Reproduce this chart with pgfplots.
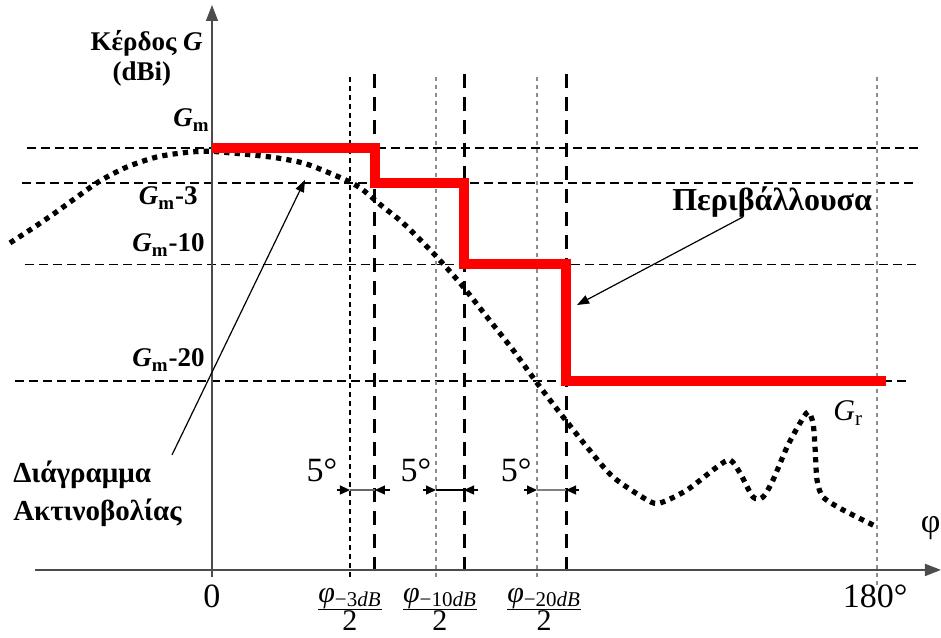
\documentclass[border=0pt]{standalone}
\usepackage{fontspec}
\setmainfont{Liberation Serif}
\usepackage{pgfplots}
\pgfplotsset{compat=1.18}
\usetikzlibrary{arrows.meta}
\newcommand\lab{\fontsize{13.5}{16}\selectfont\bfseries}
\newcommand\num{\fontsize{17}{20}\selectfont}
\begin{document}
\begin{tikzpicture}
\begin{axis}[scale only axis, width=470.5pt, height=319pt,
  xmin=-57.38, xmax=197.32, ymin=-42.06, ymax=12.70, hide axis, clip=false]
% horizontal reference lines
\draw[line width=0.6pt, dash pattern=on 4.5pt off 2.5pt] (axis cs:-50.1,0) -- (axis cs:191.1,0);
\draw[line width=0.6pt, dash pattern=on 4.5pt off 2.5pt] (axis cs:-51.4,-3) -- (axis cs:190.3,-3);
\draw[line width=0.6pt, dash pattern=on 4.5pt off 2.5pt] (axis cs:-50.6,-10) -- (axis cs:191.1,-10);
\draw[line width=0.6pt, dash pattern=on 4.5pt off 2.5pt] (axis cs:-53.3,-20) -- (axis cs:188.4,-20);
% vertical reference lines
\draw[line width=0.7pt, dash pattern=on 2.5pt off 2pt] (axis cs:37.35,6.09) -- (axis cs:37.35,-36.8);
\draw[line width=0.7pt, black!45, dash pattern=on 2pt off 2pt] (axis cs:60.63,6.09) -- (axis cs:60.63,-36.8);
\draw[line width=0.7pt, black!45, dash pattern=on 2pt off 2pt] (axis cs:87.97,6.09) -- (axis cs:87.97,-36.8);
\draw[line width=0.7pt, black!45, dash pattern=on 2pt off 2pt] (axis cs:180,6.09) -- (axis cs:180,-37.5);
\draw[line width=1.5pt, dash pattern=on 7pt off 4.5pt] (axis cs:44.1,6.35) -- (axis cs:44.1,-36.22);
\draw[line width=1.5pt, dash pattern=on 7pt off 4.5pt] (axis cs:68.21,6.35) -- (axis cs:68.21,-36.22);
\draw[line width=1.5pt, dash pattern=on 7pt off 4.5pt] (axis cs:95.82,6.35) -- (axis cs:95.82,-36.22);
% axes
\draw[line width=1pt, black!70, -{Triangle[length=8pt,width=6pt]}] (axis cs:-47.9,-36.22) -- (axis cs:197.3,-36.22);
\draw[line width=0.8pt, black!70, -{Triangle[length=8pt,width=6pt]}] (axis cs:0,-36.8) -- (axis cs:0,12.27);
% radiation pattern
\addplot[black, line width=2.6pt, dash pattern=on 2.6pt off 2.6pt, smooth, tension=0.45] coordinates {
(-54.68,-8.15) (-48.45,-6.87) (-42.50,-5.58) (-36.54,-4.21) (-30.32,-2.83)
(-23.01,-1.63) (-14.89,-0.77) (-6.77,-0.38) (0.27,-0.30) (15.70,-0.77)
(24.63,-1.29) (31.13,-2.06) (37.35,-2.92) (40.87,-3.61) (46.29,-5.06)
(51.70,-6.44) (59.82,-9.01) (67.13,-11.59) (74.44,-14.51) (81.47,-17.34)
(87.97,-20.17) (94.20,-22.75) (101.50,-25.67) (108.54,-28.24) (117.75,-30.21)
(121.26,-30.47) (128.57,-29.36) (136.69,-27.38) (140.21,-26.78) (142.92,-27.90)
(146.44,-29.96) (149.15,-29.96) (151.85,-28.50) (155.64,-25.67) (159.16,-23.61)
(161.33,-22.66) (162.68,-23.61) (163.22,-25.67) (163.76,-28.50) (165.39,-29.96)
(170.80,-31.07) (180.00,-32.53)};
% envelope
\addplot[red, line width=5pt, line join=miter] coordinates {
(0,0) (44.1,0) (44.1,-3) (68.21,-3) (68.21,-10) (95.82,-10) (95.82,-20) (182.4,-20)};
% 5 degree markers
\draw[line width=0.6pt, black!60] (axis cs:37.35,-29.36) -- (axis cs:44.1,-29.36);
\draw[line width=0.6pt, -{Triangle[length=5pt,width=4.5pt]}] (axis cs:33.8,-29.36) -- (axis cs:37.35,-29.36);
\draw[line width=0.6pt, -{Triangle[length=5pt,width=4.5pt]}] (axis cs:48.2,-29.36) -- (axis cs:44.1,-29.36);
\draw[line width=0.6pt, black] (axis cs:60.63,-29.36) -- (axis cs:68.21,-29.36);
\draw[line width=0.6pt, -{Triangle[length=5pt,width=4.5pt]}] (axis cs:57.1,-29.36) -- (axis cs:60.63,-29.36);
\draw[line width=0.6pt, -{Triangle[length=5pt,width=4.5pt]}] (axis cs:72.0,-29.36) -- (axis cs:68.21,-29.36);
\draw[line width=0.6pt, black!50] (axis cs:87.97,-29.36) -- (axis cs:95.82,-29.36);
\draw[line width=0.6pt, -{Triangle[length=5pt,width=4.5pt]}] (axis cs:84.5,-29.36) -- (axis cs:87.97,-29.36);
\draw[line width=0.6pt, -{Triangle[length=5pt,width=4.5pt]}] (axis cs:99.2,-29.36) -- (axis cs:95.82,-29.36);
\node[font=\num] at (axis cs:29.77,-27.64) {5°};
\node[font=\num] at (axis cs:55.2,-27.64) {5°};
\node[font=\num] at (axis cs:82.3,-27.64) {5°};
% annotation arrows
\draw[line width=0.6pt, -{Triangle[length=6pt,width=4.5pt]}] (axis cs:-10.83,-26.35) -- (axis cs:25.17,-2.75);
\draw[line width=0.6pt, -{Triangle[length=6pt,width=4.5pt]}] (axis cs:143.73,-5.92) -- (axis cs:98.8,-13.48);
% texts
\node[font=\lab] at (axis cs:-17.7,9.01) {Κέρδος \textit{G}};
\node[font=\lab] at (axis cs:-18.95,6.35) {(dBi)};
\node[font=\lab, anchor=east, inner sep=0pt] at (axis cs:-0.54,2.40) {\textit{G}\textsubscript{m}};
\node[font=\lab, anchor=east, inner sep=0pt] at (axis cs:-3.79,-4.29) {\textit{G}\textsubscript{m}-3};
\node[font=\lab, anchor=east, inner sep=0pt] at (axis cs:-1.9,-8.33) {\textit{G}\textsubscript{m}-10};
\node[font=\lab, anchor=east, inner sep=0pt] at (axis cs:-1.9,-18.2) {\textit{G}\textsubscript{m}-20};
\node[font=\fontsize{16}{19}\selectfont\bfseries] at (axis cs:151.6,-4.64) {Περιβάλλουσα};
\node[font=\fontsize{14.5}{17}\selectfont\bfseries, anchor=west, inner sep=0pt] at (axis cs:-53.9,-28.07) {Διάγραμμα};
\node[font=\fontsize{14.5}{17}\selectfont\bfseries, anchor=west, inner sep=0pt] at (axis cs:-53.9,-31.33) {Ακτινοβολίας};
\node[font=\fontsize{15}{18}\selectfont] at (axis cs:172.2,-22.75) {\textit{G}\textsubscript{r}};
\node[font=\num, anchor=east, inner sep=0pt] at (axis cs:197.3,-32.6) {φ};
\node[font=\num] at (axis cs:0,-38.5) {0};
\node[font=\num] at (axis cs:179.5,-38.5) {180°};
\node[font=\fontsize{15}{18}\selectfont] at (axis cs:37.35,-39.6) {$\frac{\mbox{\itshape φ\textsubscript{\upshape −3\itshape dB}}}{\mbox{2}}$};
\node[font=\fontsize{15}{18}\selectfont] at (axis cs:61.7,-39.6) {$\frac{\mbox{\itshape φ\textsubscript{\upshape −10\itshape dB}}}{\mbox{2}}$};
\node[font=\fontsize{15}{18}\selectfont] at (axis cs:89.9,-39.6) {$\frac{\mbox{\itshape φ\textsubscript{\upshape −20\itshape dB}}}{\mbox{2}}$};
\end{axis}
\pgfresetboundingbox
\path[use as bounding box] (current axis.south west) rectangle (current axis.north east);
\end{tikzpicture}
\end{document}
